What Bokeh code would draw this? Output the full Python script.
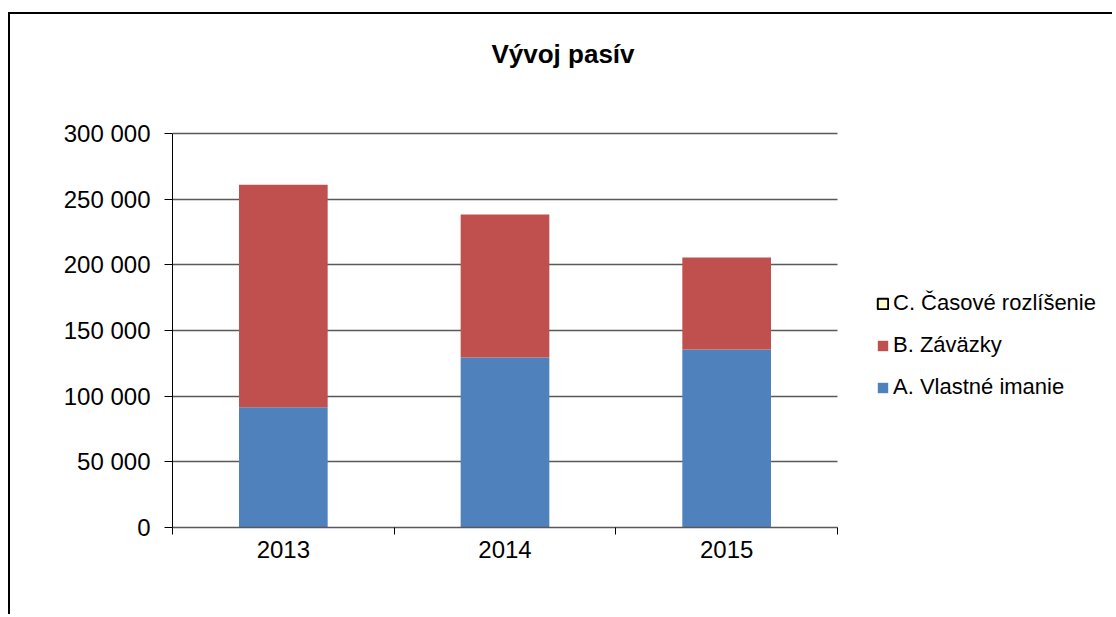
from bokeh.plotting import figure
from bokeh.models import FixedTicker, Legend, LegendItem, ColumnDataSource, Range1d, Label, Grid
from bokeh.embed import file_html
from bokeh.resources import INLINE

years = ["2013", "2014", "2015"]
vlastne_imanie = [91500, 129500, 135500]
zavazky = [169500, 108800, 70000]
casove_rozlisenie = [0, 0, 0]
series_names = ["A. Vlastné imanie", "B. Záväzky", "C. Časové rozlíšenie"]
colors = ["#4F81BD", "#C0504D", "#FFFFCC"]
y_ticks = [0, 50000, 100000, 150000, 200000, 250000, 300000]
y_tick_labels = ["0", "50 000", "100 000", "150 000", "200 000", "250 000", "300 000"]
title_text = "Vývoj pasív"

FONT = "Liberation Sans"

# layout (pixels)
W, H = 1104, 602
BL, BB = 162, 89
PLOT_W_PX = 665.0      # width of the category area
PLOT_H_PX = 394.0      # height of 0..300000
frame_w = W - BL
frame_h = H - BB
n = len(years)
x_end = n * frame_w / PLOT_W_PX
y_end = y_ticks[-1] * frame_h / PLOT_H_PX

centers = [i + 0.5 for i in range(n)]
bounds = [float(i) for i in range(n + 1)]

src = ColumnDataSource(dict(x=centers, A=vlastne_imanie, B=zavazky, C=casove_rozlisenie))

p = figure(width=W, height=H, output_backend="svg", toolbar_location=None,
           x_range=Range1d(0, x_end), y_range=Range1d(0, y_end),
           min_border_left=BL, min_border_right=0, min_border_top=0, min_border_bottom=BB)
p.styles = {"border-left": "2px solid #000", "border-top": "2px solid #000",
            "margin-top": "12px", "margin-left": "8px"}
p.outline_line_color = None
p.background_fill_color = "white"
p.border_fill_color = "white"

rs = p.vbar_stack(["A", "B", "C"], x="x", width=0.4, source=src,
                  color=colors, line_color=None)

proxy = p.vbar(x=[float("nan")], top=[float("nan")], width=0.4,
               fill_color=colors[2], line_color="black", line_width=2)

legend = Legend(items=[
    LegendItem(label=series_names[2], renderers=[proxy]),
    LegendItem(label=series_names[1], renderers=[rs[1]]),
    LegendItem(label=series_names[0], renderers=[rs[0]]),
], location=(704, 127))
legend.border_line_color = None
legend.background_fill_alpha = 0
legend.padding = 0
legend.margin = 0
legend.glyph_width = 13
legend.glyph_height = 13
legend.label_height = 26
legend.spacing = 16
legend.label_standoff = 4
legend.label_text_font = FONT
legend.label_text_font_size = "22px"
legend.label_text_color = "#000000"
p.add_layout(legend, "center")

# x axis
xa = p.xaxis[0]
xa.bounds = (0, n)
xa.ticker = FixedTicker(ticks=centers, minor_ticks=bounds)
xa.major_label_overrides = {c: y for c, y in zip(centers, years)}
xa.major_tick_out = 0
xa.major_tick_in = 0
xa.minor_tick_out = 7
xa.minor_tick_in = 0
xa.minor_tick_line_color = "#000000"
xa.axis_line_color = "#595959"
xa.axis_line_width = 1.5
xa.major_label_text_font = FONT
xa.major_label_text_font_size = "24px"
xa.major_label_text_color = "#000000"
xa.major_label_standoff = 6

ya = p.yaxis[0]
ya.bounds = (y_ticks[0], y_ticks[-1])
ya.ticker = FixedTicker(ticks=y_ticks, minor_ticks=[])
ya.major_label_overrides = {t: l for t, l in zip(y_ticks, y_tick_labels)}
ya.major_tick_out = 8
ya.major_tick_in = 0
ya.major_tick_line_color = "#000000"
ya.axis_line_color = "#000000"
ya.major_label_text_font = FONT
ya.major_label_text_font_size = "24px"
ya.major_label_text_color = "#000000"
ya.major_label_standoff = 14

p.xgrid.grid_line_color = None
if "cross_bounds" in Grid.properties():
    p.ygrid.ticker = FixedTicker(ticks=y_ticks)
    p.ygrid.cross_bounds = (0, n)
    p.ygrid.grid_line_color = "#595959"
    p.ygrid.grid_line_width = 1.5
else:
    p.ygrid.grid_line_color = None
    p.segment(x0=0, x1=n, y0=y_ticks, y1=y_ticks, line_color="#595959",
              line_width=1.5, level="underlay")

# title centred over the whole chart area
p.add_layout(Label(x=390.5, y=474, x_units="screen", y_units="screen", text=title_text,
                   text_align="center", text_baseline="middle", text_font=FONT,
                   text_font_size="26px", text_font_style="bold", text_color="#000000"))

open("out.html", "w").write(file_html(p, INLINE))
